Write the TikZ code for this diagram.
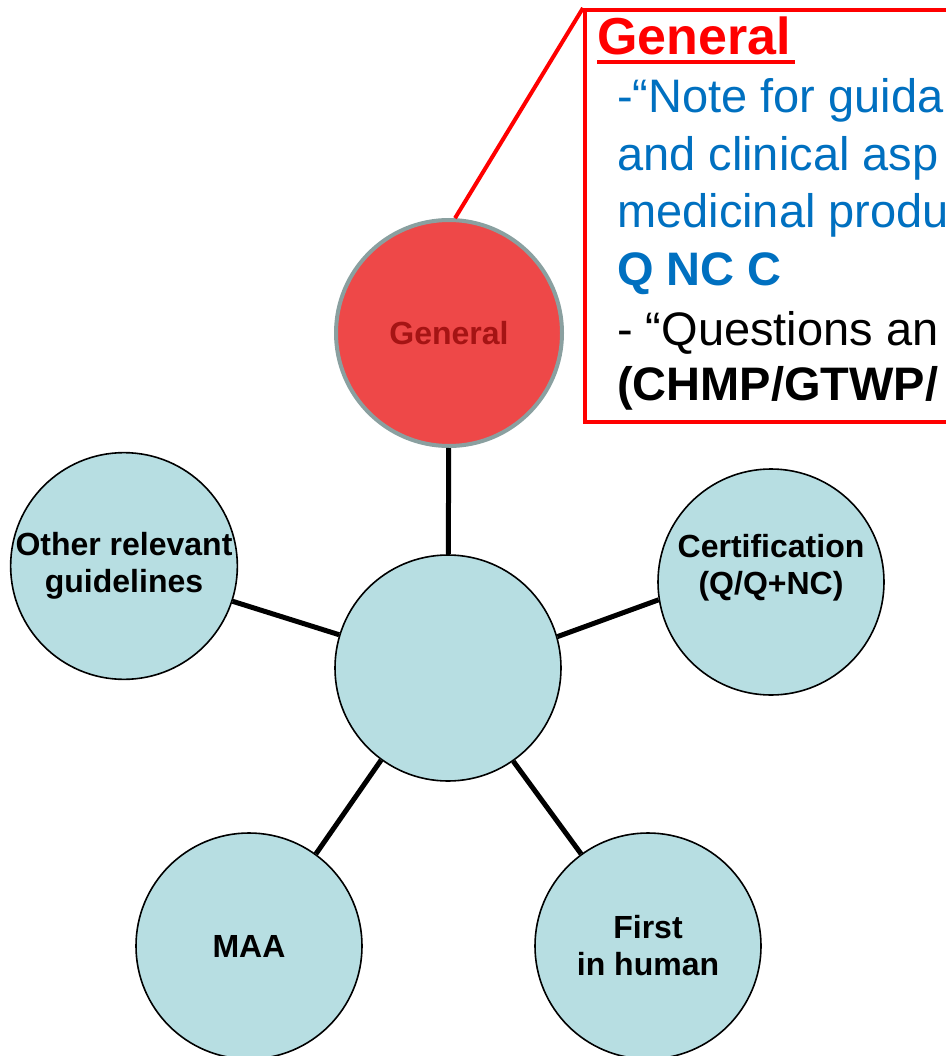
\documentclass[tikz,border=0pt]{standalone}
\usepackage{fontspec}
\setmainfont{Liberation Sans}
\definecolor{cfill}{RGB}{183,222,226}
\definecolor{gborder}{RGB}{138,160,160}
\definecolor{gfill}{RGB}{238,72,72}
\definecolor{gtext}{RGB}{165,20,20}
\definecolor{tblue}{RGB}{0,112,192}
\begin{document}
\begin{tikzpicture}[x=1pt,y=-1pt,
  bub/.style={circle,draw=black,line width=1.6pt,fill=cfill,minimum size=226pt,inner sep=0pt,align=center,
    font=\fontsize{32}{37}\selectfont\bfseries},
  lbl/.style={inner sep=0pt,align=center,font=\fontsize{32}{37}\selectfont\bfseries},
  link/.style={line width=5pt,black},
  boxtxt/.style={anchor=base west,inner sep=0pt,font=\fontsize{47}{57}\selectfont,text=tblue},
  blktxt/.style={boxtxt,text=black}]
\useasboundingbox (0,0) rectangle (945,1056);
% callout box
\node[draw=red,line width=4pt,fill=white,minimum width=420pt,minimum height=412pt,anchor=north west,inner sep=0pt] (box) at (583,8) {};
\node[anchor=base west,inner sep=0pt,text=red,font=\fontsize{52}{60}\selectfont\bfseries] (ttl) at (597,55) {General};
\draw[red,line width=4pt] (ttl.base west) ++(0,7) coordinate (ul1) -- ++(198,0) coordinate (ul2);
\node[boxtxt] (l1) at (617,113) {-“Note for guida};
\node[boxtxt] (l2) at (617,171) {and clinical asp};
\node[boxtxt] (l3) at (617,228) {medicinal produ};
\node[boxtxt,font=\fontsize{47}{57}\selectfont\bfseries] (l4) at (617,286) {Q NC C};
\node[blktxt] (l5) at (617,345) {- “Questions an};
\node[blktxt,font=\fontsize{47}{57}\selectfont\bfseries] (l6) at (617,400) {(CHMP/GTWP/};
% circles
\node[bub,draw=gborder,line width=4pt,fill=gfill,text=gtext] (gen) at (449,333) {General};
\node[bub] (ctr) at (448,668) {};
\node[bub] (oth) at (124,566) {Other relevant\\guidelines};
\node[bub] (cert) at (771,582) {};
\node[lbl] (certlbl) at (771,568) {Certification\\(Q/Q+NC)};
\node[bub] (maa) at (249,946) {MAA};
\node[bub] (fih) at (648,946) {First\\in human};
% callout pointer
\draw[red,line width=4pt] (box.north west) -- (gen.87);
% connectors
\draw[link] (gen) -- (ctr);
\draw[link] (oth.342) -- (ctr.163);
\draw[link] (cert.189) -- (ctr.16);
\draw[link] (maa.54) -- (ctr.234);
\draw[link] (fih.126) -- (ctr.305);
\end{tikzpicture}
\end{document}
